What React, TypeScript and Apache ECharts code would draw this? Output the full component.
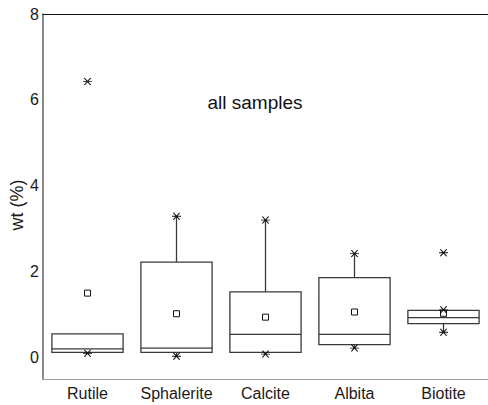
import React, { useEffect, useRef } from "react";
import * as echarts from "echarts";

// Mineral groups on the x axis
const categories = ["Rutile", "Sphalerite", "Calcite", "Albita", "Biotite"];

// Box statistics, wt (%)
const whiskerLow = [0.12, 0.03, 0.08, 0.22, 0.59];
const q1 = [0.12, 0.12, 0.12, 0.3, 0.79];
const median = [0.2, 0.22, 0.54, 0.54, 0.93];
const q3 = [0.55, 2.22, 1.53, 1.86, 1.1];
const whiskerHigh = [0.55, 3.29, 3.2, 2.42, 1.11];
const mean = [1.5, 1.02, 0.94, 1.06, 1.03];

// Extreme-value markers
const maxMarker = [6.43, 3.29, 3.2, 2.42, 2.44];
const minMarker = [0.1, 0.03, 0.08, 0.22, 0.59];
const upperCap: (number | string)[] = ["-", "-", "-", "-", 1.11];

// Y axis tick labels
const yTicks = [0, 2, 4, 6, 8];

const STAR = "path://M0,4 L10,4 M1.5,0.5 L8.5,7.5 M1.5,7.5 L8.5,0.5";
const FONT = "'Liberation Sans', Arial, sans-serif";
const LINE = "#3a3a3a";

export default function App() {
  const ref = useRef<HTMLDivElement>(null);

  useEffect(() => {
    if (!ref.current) return;
    const chart = echarts.init(ref.current, null, { renderer: "svg" });

    const boxData = categories.map((_, i) => [
      i,
      whiskerLow[i],
      q1[i],
      median[i],
      q3[i],
      whiskerHigh[i],
    ]);

    const markerSeries = (data: (number | string)[], symbol: string, size: number | number[]) => ({
      type: "scatter",
      data: data,
      symbol,
      symbolSize: size,
      z: 5,
      itemStyle: { color: "transparent", borderColor: "#111", borderWidth: 1, opacity: 1 },
      silent: true,
    });

    chart.setOption({
      animation: false,
      grid: { left: 43, top: 14, bottom: 26, width: 450 },
      xAxis: [
        {
          type: "category",
          data: categories,
          boundaryGap: true,
          axisTick: { show: false },
          axisLine: { onZero: false, lineStyle: { color: "#9a9a9a", width: 1 } },
          axisLabel: { fontFamily: FONT, fontSize: 16, color: "#1a1a1a", margin: 6, interval: 0 },
        },
        {
          type: "category",
          data: categories,
          position: "top",
          axisTick: { show: false },
          axisLabel: { show: false },
          axisLine: { onZero: false, lineStyle: { color: "#111", width: 1 } },
        },
      ],
      yAxis: {
        type: "value",
        min: -0.5,
        max: 8,
        splitLine: { show: false },
        axisTick: { show: false },
        axisLine: { show: true, lineStyle: { color: "#666", width: 1.5 } },
        axisLabel: {
          customValues: yTicks,
          fontFamily: FONT,
          fontSize: 16,
          color: "#1a1a1a",
          margin: 4,
        },
      },
      graphic: [
        {
          type: "text",
          x: 17,
          y: 205,
          rotation: Math.PI / 2,
          style: {
            text: "wt (%)",
            font: `18px ${FONT}`,
            fill: "#1a1a1a",
            align: "center",
            verticalAlign: "middle",
          },
        },
        {
          type: "text",
          x: 255,
          y: 102,
          style: {
            text: "all samples",
            font: `19px ${FONT}`,
            fill: "#111",
            align: "center",
            verticalAlign: "middle",
          },
        },
      ],
      series: [
        {
          type: "custom",
          data: boxData,
          encode: { x: 0, y: [1, 2, 3, 4, 5] },
          renderItem: (params: any, api: any) => {
            const idx = api.value(0);
            const band = api.size([1, 0])[0];
            const half = band * 0.4;
            const [cx, yLow] = api.coord([idx, api.value(1)]);
            const yQ1 = api.coord([idx, api.value(2)])[1];
            const yMed = api.coord([idx, api.value(3)])[1];
            const yQ3 = api.coord([idx, api.value(4)])[1];
            const yHigh = api.coord([idx, api.value(5)])[1];
            const stroke = { stroke: LINE, lineWidth: 1.3, fill: "none" };
            return {
              type: "group",
              children: [
                {
                  type: "line",
                  shape: { x1: cx, y1: yQ3, x2: cx, y2: yHigh },
                  style: stroke,
                },
                {
                  type: "line",
                  shape: { x1: cx, y1: yQ1, x2: cx, y2: yLow },
                  style: stroke,
                },
                {
                  type: "rect",
                  shape: { x: cx - half, y: yQ3, width: half * 2, height: yQ1 - yQ3 },
                  style: { stroke: LINE, lineWidth: 1.3, fill: "#fff" },
                },
                {
                  type: "line",
                  shape: { x1: cx - half, y1: yMed, x2: cx + half, y2: yMed },
                  style: stroke,
                },
              ],
            };
          },
        },
        markerSeries(mean, "rect", [6, 6]),
        markerSeries(maxMarker, STAR, [9, 7]),
        markerSeries(minMarker, STAR, [9, 7]),
        markerSeries(upperCap, STAR, [9, 7]),
      ],
    });

    return () => chart.dispose();
  }, []);

  return (
    <div
      ref={ref}
      style={{ position: "absolute", left: 0, top: 0, width: 488, height: 405 }}
    />
  );
}
